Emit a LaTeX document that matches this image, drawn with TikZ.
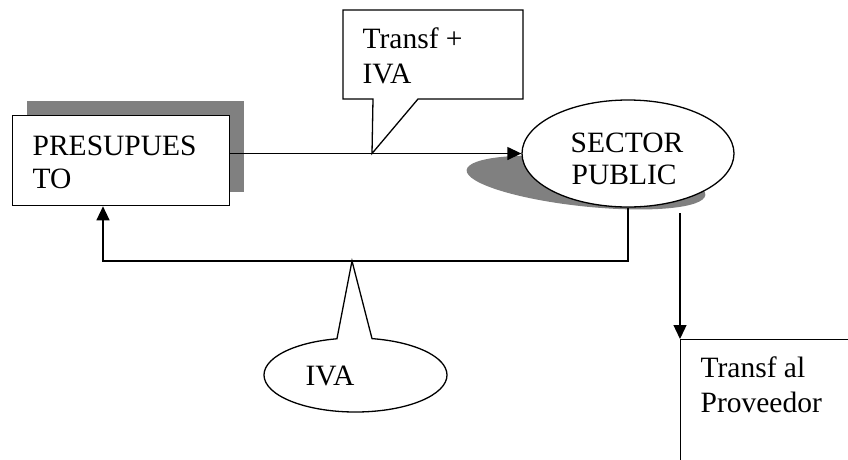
\documentclass[tikz,border=0pt]{standalone}
\usepackage{fontspec}
\setmainfont{Liberation Serif}
\usetikzlibrary{arrows.meta,calc,shapes.geometric}
\begin{document}
\begin{tikzpicture}[x=1pt,y=-1pt,line width=1.3pt,
  lbl/.style={anchor=base west,inner sep=0pt,font=\fontsize{29.5}{34}\selectfont},
  arr/.style={-{Triangle[length=14pt,width=13pt]}},
  shadowfill/.style={fill=black!50,draw=none}]
\useasboundingbox (0,0) rectangle (848,459);
% shadows
\fill[shadowfill] (27,101) rectangle (244,192);
\fill[shadowfill,rotate around={-6:(586,182.5)}] (586,182.5) ellipse [x radius=120pt,y radius=24pt];
% main shapes
\node[draw,fill=white,minimum width=217pt,minimum height=90pt,inner sep=0pt,anchor=north west] (pres) at (12,115) {};
\node[draw,fill=white,ellipse,minimum width=212pt,minimum height=107pt,inner sep=0pt] (sp) at (628,153.5) {};
\node[draw,anchor=north west,minimum width=200pt,minimum height=150pt,inner sep=0pt] (prov) at (680,339) {};
% arrows
\draw[arr] (pres.east |- sp.west) -- (sp.west);
\coordinate (ret) at (103,261);
\draw[arr] (sp.south) |- (ret) -- (pres.south -| ret);
\coordinate (spout) at (680,213);
\draw[arr] (spout) -- (prov.north west);
% callout Transf + IVA
\coordinate (tipA) at (372,153.5);
\draw[fill=white] (343,10) -- (523,10) -- (523,99) -- (418,99) -- (tipA) -- (373,99) -- (343,99) -- cycle;
% callout IVA
\coordinate (ivc) at (355.5,375);
\coordinate (tipB) at (352,261);
\draw[fill=white] ($(ivc)+(79.6:91.5pt and 37pt)$) -- (tipB) -- ($(ivc)+(101.7:91.5pt and 37pt)$)
  arc[start angle=101.7,end angle=439.6,x radius=91.5pt,y radius=37pt] -- cycle;
% texts
\node[lbl] (t1a) at (32,155) {PRESUPUES};
\node[lbl] (t1b) at (32,188) {TO};
\node[lbl] (t2a) at (362,48) {Transf +};
\node[lbl] (t2b) at (362,83) {IVA};
\node[lbl] (t3a) at (570,152) {SECTOR};
\node[lbl] (t3b) at (571,184) {PUBLIC};
\node[lbl] (t4) at (305,385) {IVA};
\node[lbl] (t5a) at (700,377) {Transf al};
\node[lbl] (t5b) at (700,412) {Proveedor};
\end{tikzpicture}
\end{document}
